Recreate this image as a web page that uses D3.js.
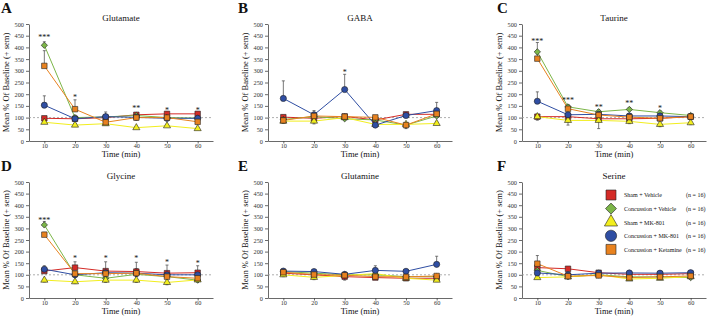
<!DOCTYPE html>
<html>
<head>
<meta charset="utf-8">
<script src="https://cdn.jsdelivr.net/npm/d3@7"></script>
<style>
  body { margin: 0; background: #fff; }
  svg { display: block; font-family: "Liberation Serif", "DejaVu Serif", serif; }
  svg text { fill: #111; }
  .axis path, .axis line { stroke: #444; stroke-width: 0.8; }
  .axis text { font-size: 6.3px; fill: #333; font-family: "Liberation Serif", serif; }
</style>
</head>
<body>
<svg width="708" height="316"></svg>
<script>
// ---- Dados
const times = [10, 20, 30, 40, 50, 60];
const yTicks = [0, 50, 100, 150, 200, 250, 300, 350, 400, 450, 500];
const groups = ['Sham + Vehicle', 'Concussion + Vehicle', 'Sham + MK-801', 'Concussion + MK-801', 'Concussion + Ketamine'];
const groupN = ['(n = 16)', '(n = 16)', '(n = 16)', '(n = 16)', '(n = 16)'];
const panelNames = ['Glutamate', 'GABA', 'Taurine', 'Glycine', 'Glutamine', 'Serine'];
const panelLetters = ['A', 'B', 'C', 'D', 'E', 'F'];

// linhas: Sham+Veh, Conc+Veh, Sham+MK, Conc+MK, Conc+Ket
const glutamateMean = [
    [97, 95, 100, 112, 116, 116],
    [409, 100, 103, 109, 100, 98],
    [80, 68, 74, 57, 65, 53],
    [153, 95, 104, 101, 97, 97],
    [321, 136, 80, 100, 100, 82]
];
const glutamateSem = [
    [8, 6, 8, 6, 8, 8],
    [15, 10, 8, 6, 6, 6],
    [6, 6, 6, 4, 4, 4],
    [40, 10, 20, 6, 6, 8],
    [65, 40, 10, 8, 10, 8]
];
const glutamateStars = [[10, '***', 448], [20, '*', 192], [40, '**', 146], [50, '*', 138], [60, '*', 138]];

const gabaMean = [
    [102, 97, 105, 90, 114, 114],
    [92, 104, 95, 90, 68, 107],
    [85, 85, 100, 71, 71, 75],
    [182, 112, 220, 68, 109, 130],
    [88, 107, 104, 101, 68, 116]
];
const gabaSem = [
    [8, 8, 8, 8, 8, 8],
    [8, 8, 6, 8, 8, 8],
    [-10, -12, 6, 6, 6, 6],
    [75, 18, 65, 8, 12, 35],
    [8, 8, 8, 8, -15, 10]
];
const gabaStars = [[30, '*', 300]];

const taurineMean = [
    [104, 104, 95, 95, 97, 104],
    [381, 146, 125, 135, 121, 109],
    [104, 88, 88, 84, 71, 78],
    [170, 112, 114, 107, 107, 104],
    [352, 138, 111, 102, 97, 104]
];
const taurineSem = [
    [8, 8, 8, 8, 8, 6],
    [40, 10, 8, 8, 8, 5],
    [-15, -20, -35, -10, -10, -8],
    [40, 8, 8, 8, 8, 6],
    [20, 10, 15, 8, 8, 5]
];
const taurineStars = [[10, '***', 432], [20, '***', 178], [30, '**', 150], [40, '**', 168], [50, '*', 144]];

const glycineMean = [
    [116, 131, 116, 114, 107, 109],
    [315, 100, 85, 102, 92, 77],
    [77, 70, 77, 77, 67, 78],
    [124, 100, 109, 107, 100, 100],
    [273, 105, 105, 107, 92, 85]
];
const glycineSem = [
    [8, 25, 40, 40, 35, 30],
    [15, 8, 8, 8, 8, 6],
    [-8, -8, -10, -10, -10, -8],
    [15, 8, 8, 8, 8, 8],
    [10, 8, 15, 20, 20, 20]
];
const glycineStars = [[10, '***', 342], [20, '*', 175], [30, '*', 175], [40, '*', 175], [50, '*', 158], [60, '*', 154]];

const glutamineMean = [
    [107, 100, 92, 88, 85, 85],
    [114, 107, 100, 100, 92, 92],
    [100, 89, 97, 105, 85, 77],
    [116, 114, 102, 119, 115, 145],
    [111, 101, 98, 92, 91, 95]
];
const glutamineSem = [
    [8, 6, 6, 6, 6, 6],
    [6, 6, 6, 6, 6, 6],
    [-8, -10, -20, 6, -8, -6],
    [8, 8, 6, 20, 8, 35],
    [8, 6, 6, 6, 6, 6]
];
const glutamineStars = [];

const serineMean = [
    [131, 126, 109, 102, 102, 105],
    [119, 92, 100, 91, 91, 88],
    [88, 91, 100, 82, 85, 92],
    [108, 100, 107, 108, 107, 109],
    [148, 94, 97, 88, 91, 95]
];
const serineSem = [
    [10, 6, 6, 6, 6, 6],
    [8, 6, 6, 6, 6, 6],
    [6, 6, 6, 6, 6, 6],
    [8, 6, 6, 6, 6, 6],
    [35, 6, 6, 6, 6, 6]
];
const serineStars = [];

// ---- Estilo
const colors = ['#d42b27', '#7cb648', '#f2ee1e', '#2f4ea3', '#e8821f'];
const symbols = [d3.symbolSquare, d3.symbolSquare, d3.symbolTriangle, d3.symbolCircle, d3.symbolSquare];
const symbolRot = [0, 45, 0, 0, 0];
const symbolSizes = [30, 20, 22, 30, 30];
const legendSizes = [100, 60, 75, 100, 100];

const panels = [
    { mean: glutamateMean, sem: glutamateSem, stars: glutamateStars },
    { mean: gabaMean, sem: gabaSem, stars: gabaStars },
    { mean: taurineMean, sem: taurineSem, stars: taurineStars },
    { mean: glycineMean, sem: glycineSem, stars: glycineStars },
    { mean: glutamineMean, sem: glutamineSem, stars: glutamineStars },
    { mean: serineMean, sem: serineSem, stars: serineStars }
];

const colLeft = [29, 268, 522];
const colLetter = [1, 238, 497];
const plotW = 184;
const rowRange = [[141, 24], [298, 182]];

const svg = d3.select('svg');

panels.forEach((p, i) => {
    const col = i % 3, row = Math.floor(i / 3);
    const left = colLeft[col];
    const [y0, y1] = rowRange[row];

    const mapX = d3.scaleLinear().domain([5, 65]).range([left, left + plotW]);
    const mapY = d3.scaleLinear().domain([0, 500]).range([y0, y1]);

    const g = svg.append('g');

    // ---- Eixos
    g.append('g')
        .attr('class', 'axis')
        .attr('transform', `translate(0, ${y0})`)
        .call(d3.axisBottom(mapX).tickValues(times).tickSize(2.5).tickSizeOuter(0).tickPadding(0));

    g.append('g')
        .attr('class', 'axis')
        .attr('transform', `translate(${left}, 0)`)
        .call(d3.axisLeft(mapY).tickValues(yTicks).tickSize(3).tickSizeOuter(0).tickPadding(2));

    // linha de base 100%
    g.append('line')
        .attr('x1', mapX(5)).attr('x2', mapX(65))
        .attr('y1', mapY(100)).attr('y2', mapY(100))
        .attr('stroke', '#999').attr('stroke-width', 0.8)
        .attr('stroke-dasharray', '2,2');

    // textos
    g.append('text')
        .attr('x', (mapX(5) + mapX(65)) / 2).attr('y', y1 - 3)
        .attr('text-anchor', 'middle').attr('font-size', 9)
        .text(panelNames[i]);

    g.append('text')
        .attr('x', (mapX(5) + mapX(65)) / 2).attr('y', y0 + 15.5)
        .attr('text-anchor', 'middle').attr('font-size', 8.5)
        .text('Time (min)');

    g.append('text')
        .attr('transform', `translate(${left - 20}, ${(y0 + y1) / 2}) rotate(-90)`)
        .attr('text-anchor', 'middle').attr('font-size', 8.5)
        .text('Mean % Of Baseline (+ sem)');

    g.append('text')
        .attr('x', colLetter[col]).attr('y', y1 - 11)
        .attr('font-size', 15).attr('font-weight', 'bold')
        .text(panelLetters[i]);

    // ---- Barras de erro
    p.mean.forEach((serie, s) => {
        serie.forEach((v, k) => {
            const top = v + p.sem[s][k];
            g.append('line')
                .attr('x1', mapX(times[k])).attr('x2', mapX(times[k]))
                .attr('y1', mapY(v)).attr('y2', mapY(top))
                .attr('stroke', '#555').attr('stroke-width', 0.8);
            g.append('line')
                .attr('x1', mapX(times[k]) - 1.5).attr('x2', mapX(times[k]) + 1.5)
                .attr('y1', mapY(top)).attr('y2', mapY(top))
                .attr('stroke', '#555').attr('stroke-width', 0.8);
        });
    });

    // ---- Linhas
    const line = d3.line()
        .x((d, k) => mapX(times[k]))
        .y(d => mapY(d));

    g.selectAll('path.serie')
        .data(p.mean)
        .join('path')
        .attr('class', 'serie')
        .attr('fill', 'none')
        .attr('stroke', (d, s) => colors[s])
        .attr('stroke-width', 1)
        .attr('d', line);

    // ---- Marcadores
    p.mean.forEach((serie, s) => {
        g.selectAll(null)
            .data(serie)
            .join('path')
            .attr('transform', (d, k) => `translate(${mapX(times[k])}, ${mapY(d)}) rotate(${symbolRot[s]})`)
            .attr('d', d3.symbol(symbols[s], symbolSizes[s]))
            .attr('fill', colors[s])
            .attr('stroke', '#222')
            .attr('stroke-width', 0.6);
    });

    // ---- Asteriscos
    g.selectAll('text.star')
        .data(p.stars)
        .join('text')
        .attr('class', 'star')
        .attr('x', d => mapX(d[0]))
        .attr('y', d => mapY(d[2]) + 4)
        .attr('text-anchor', 'middle')
        .attr('font-size', 8)
        .text(d => d[1]);
});

// ---- Legenda (painel F)
const leg = svg.append('g');
groups.forEach((name, s) => {
    const y = 195 + s * 13.6;
    leg.append('path')
        .attr('transform', `translate(611, ${y}) rotate(${symbolRot[s]})`)
        .attr('d', d3.symbol(symbols[s], legendSizes[s]))
        .attr('fill', colors[s])
        .attr('stroke', '#222')
        .attr('stroke-width', 0.6);
    leg.append('text')
        .attr('x', 624).attr('y', y + 2.3)
        .attr('font-size', 6)
        .text(name);
    leg.append('text')
        .attr('x', 686).attr('y', y + 2.3)
        .attr('font-size', 6)
        .text(groupN[s]);
});
</script>
</body>
</html>
